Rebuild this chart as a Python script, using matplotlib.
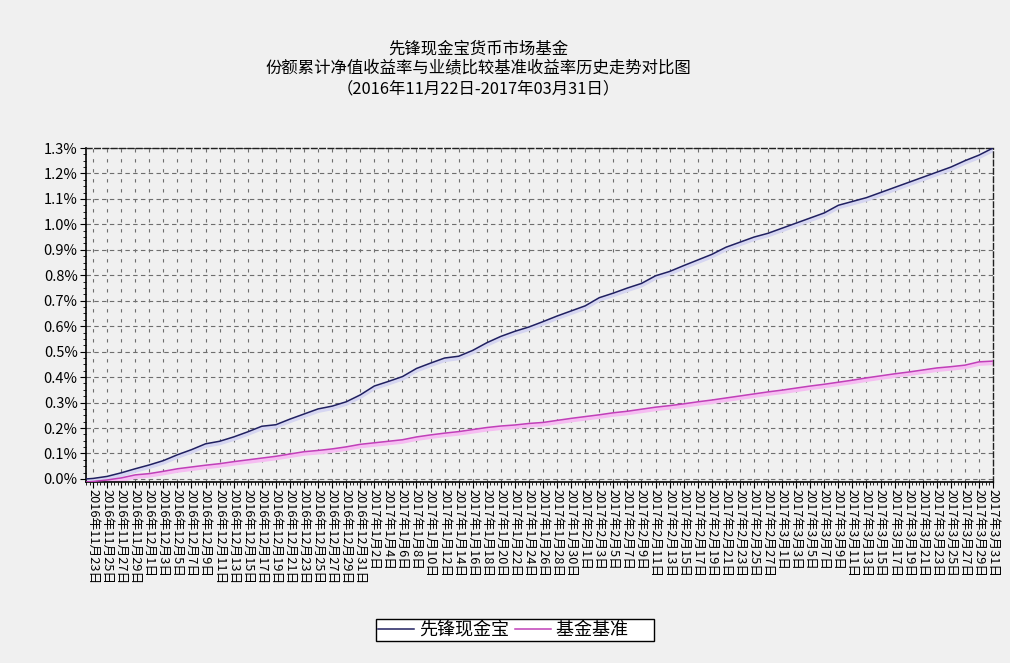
import numpy as np
import pandas as pd
import matplotlib
matplotlib.use("Agg")
import matplotlib.pyplot as plt
import matplotlib.transforms as mtransforms
from matplotlib.ticker import MultipleLocator, FixedLocator

# data (every second day)
start = pd.Timestamp("2016-11-22")
dates = [start] + list(pd.date_range("2016-11-23", "2017-03-31", freq="2D"))

fund = [0.000, 0.002, 0.010, 0.024, 0.040, 0.055, 0.072, 0.095, 0.115, 0.138,
        0.148, 0.165, 0.185, 0.207, 0.213, 0.235, 0.255, 0.275, 0.286, 0.303,
        0.330, 0.365, 0.383, 0.402, 0.434, 0.455, 0.475, 0.482, 0.505, 0.535,
        0.560, 0.580, 0.597, 0.618, 0.640, 0.660, 0.680, 0.712, 0.730, 0.750,
        0.768, 0.798, 0.815, 0.838, 0.860, 0.882, 0.910, 0.930, 0.950, 0.965,
        0.985, 1.005, 1.025, 1.045, 1.075, 1.090, 1.105, 1.125, 1.145, 1.165,
        1.185, 1.205, 1.225, 1.250, 1.272, 1.300]

bench = [-0.012, -0.010, -0.004, 0.004, 0.016, 0.021, 0.030, 0.040, 0.047, 0.054,
         0.060, 0.068, 0.075, 0.082, 0.089, 0.098, 0.107, 0.112, 0.118, 0.126,
         0.136, 0.142, 0.148, 0.154, 0.165, 0.173, 0.180, 0.186, 0.194, 0.202,
         0.208, 0.212, 0.218, 0.222, 0.230, 0.238, 0.245, 0.252, 0.260, 0.266,
         0.274, 0.282, 0.288, 0.295, 0.303, 0.310, 0.318, 0.326, 0.334, 0.342,
         0.349, 0.357, 0.365, 0.372, 0.380, 0.388, 0.397, 0.405, 0.413, 0.420,
         0.428, 0.436, 0.441, 0.447, 0.460, 0.463]

series_names = ["先锋现金宝", "基金基准"]
title_lines = ["先锋现金宝货币市场基金",
               "份额累计净值收益率与业绩比较基准收益率历史走势对比图",
               "（2016年11月22日-2017年03月31日）"]
yticks = [0.0, 0.1, 0.2, 0.3, 0.4, 0.5, 0.6, 0.7, 0.8, 0.9, 1.0, 1.1, 1.2, 1.3]

plt.rcParams['font.family'] = ['Noto Sans CJK SC', 'DejaVu Sans']

bg = "#f0f0f0"
fig = plt.figure(figsize=(10.10, 6.63), dpi=100, facecolor=bg)
ax = fig.add_axes([86/1010, 1-482/663, (993-86)/1010, (482-148)/663])
ax.set_facecolor(bg)

x = np.array([(d - start).days for d in dates])

shadow = mtransforms.offset_copy(ax.transData, fig=fig, x=0, y=-2, units='dots')
ax.plot(x, fund, color="#d6d6f2", lw=3, transform=shadow, zorder=2)
ax.plot(x, bench, color="#f6bdf2", lw=3, transform=shadow, zorder=2)
l1, = ax.plot(x, fund, color="#202060", lw=1.1, zorder=3)
l2, = ax.plot(x, bench, color="#c040b8", lw=1.1, zorder=3)

ax.set_xlim(0, 129)
ax.set_ylim(-0.012, 1.3)

xt = x[1:]
ax.xaxis.set_major_locator(FixedLocator(xt))
ax.xaxis.set_minor_locator(MultipleLocator(0.5))
ax.set_xticklabels([f"{d.year}年{d.month}月{d.day}日" for d in dates[1:]],
                   rotation=-90, fontsize=9.2)
ax.set_yticks(yticks)
ax.set_yticklabels([f"{v:.1f}%" for v in yticks], fontsize=10.5)
ax.yaxis.set_minor_locator(MultipleLocator(0.025))

ax.tick_params(axis='both', which='major', direction='out', length=4, width=0.8, color='black', pad=2)
ax.tick_params(axis='x', which='major', pad=1)
ax.tick_params(axis='both', which='minor', direction='out', length=2.5, width=0.6, color='black')

for v in yticks:
    ax.axhline(v, color="#6e6e6e", lw=0.8, ls=(0, (4, 3)), zorder=1)
for v in xt:
    ax.axvline(v, color="#6e6e6e", lw=0.8, ls=(0, (3, 6)), zorder=1)

for s in ['left', 'bottom']:
    ax.spines[s].set_color('black')
    ax.spines[s].set_linewidth(1.2)
for s in ['top', 'right']:
    ax.spines[s].set_color('#202020')
    ax.spines[s].set_linewidth(1.0)
    ax.spines[s].set_linestyle((0, (4, 2)))

for i, t in enumerate(title_lines):
    fig.text(478/1010, 1 - (49.5 + i*19.5)/663, t, ha='center', va='center', fontsize=11.8)

leg = fig.legend([l1, l2], [series_names[0], series_names[1] + "      "], loc='center',
                 bbox_to_anchor=(515/1010, 1-630/663),
                 ncol=2, fontsize=13, frameon=True, fancybox=False, handlelength=2.0,
                 handletextpad=0.3, columnspacing=0.3, borderpad=0.12, borderaxespad=0)
leg.get_frame().set_edgecolor('black')
leg.get_frame().set_facecolor('white')
leg.get_frame().set_linewidth(1.0)
leg.get_frame().set_alpha(1)

fig.savefig("out.png", dpi=100, facecolor=bg)
